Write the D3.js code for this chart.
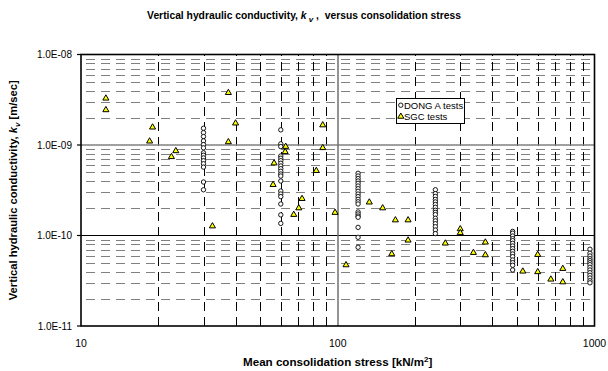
<!DOCTYPE html>
<html>
<head>
<meta charset="utf-8">
<script src="https://cdn.jsdelivr.net/npm/d3@7/dist/d3.min.js"></script>
<style>
  html, body { margin: 0; padding: 0; background: #fff; }
  svg { display: block; font-family: "Liberation Sans", Arial, sans-serif; }
</style>
</head>
<body>
<svg id="chart" width="608" height="371"></svg>
<script>
// Mean consolidation stress (kN/m2) of each DONG A test column, with measured k_v (m/s)
const dongStress = [30, 60, 120, 240, 480, 960];
const dongK30 = [1.53e-9, 1.37e-9, 1.24e-9, 1.11e-9, 1.01e-9, 9.3e-10, 8.2e-10, 7.7e-10, 7.2e-10, 6.7e-10, 6.2e-10, 5.7e-10, 3.9e-10, 3.2e-10];
const dongK60 = [1.47e-9, 1.03e-9, 9.6e-10, 7.55e-10, 7.13e-10, 6.71e-10, 6.28e-10, 5.86e-10, 5.47e-10, 5.12e-10, 4.78e-10, 4.54e-10, 4.0e-10, 3.1e-10, 2.87e-10, 2.69e-10, 2.23e-10, 1.69e-10, 1.36e-10];
const dongK120 = [4.87e-10, 4.54e-10, 4.25e-10, 4.0e-10, 3.77e-10, 3.52e-10, 3.29e-10, 3.08e-10, 2.87e-10, 2.69e-10, 2.51e-10, 2.36e-10, 2.23e-10, 1.82e-10, 1.73e-10, 1.64e-10, 1.59e-10, 1.23e-10, 9.55e-11, 7.41e-11];
const dongK240 = [3.2e-10, 2.9e-10, 2.7e-10, 2.5e-10, 2.35e-10, 2.2e-10, 2.05e-10, 1.9e-10, 1.8e-10, 1.7e-10, 1.55e-10, 1.45e-10, 1.35e-10, 1.25e-10, 1.15e-10, 1.05e-10];
const dongK480 = [1.11e-10, 1.06e-10, 9.87e-11, 9.22e-11, 8.77e-11, 8.2e-11, 7.66e-11, 7.15e-11, 6.69e-11, 6.25e-11, 5.84e-11, 5.36e-11, 5.01e-11, 4.69e-11, 4.16e-11];
const dongK960 = [7.05e-11, 6.36e-11, 5.93e-11, 5.54e-11, 5.27e-11, 5.01e-11, 4.76e-11, 4.45e-11, 4.16e-11, 3.88e-11, 3.63e-11, 3.39e-11, 3.16e-11, 3.0e-11];
const dongK = [dongK30, dongK60, dongK120, dongK240, dongK480, dongK960];

// SGC tests: stress (kN/m2) and k_v (m/s)
const sgcStress = [12.5, 12.5, 19.0, 18.5, 23.4, 22.5, 37.5, 40.0, 37.5, 32.5,
  87.4, 62.7, 62.4, 87.4, 56.5, 82.5, 56.0, 72.6, 70.5, 67.4, 97.6, 107.7,
  132.7, 149.6, 167.7, 187.9, 187.9, 162.3, 262.4, 300, 300,
  375.8, 337.6, 375.8, 525.7, 601, 601, 676, 752.5, 752.5];
const sgcK = [3.28e-9, 2.44e-9, 1.57e-9, 1.10e-9, 8.6e-10, 7.4e-10, 3.78e-9, 1.74e-9, 1.08e-9, 1.27e-10,
  1.66e-9, 9.6e-10, 8.4e-10, 9.3e-10, 6.3e-10, 5.2e-10, 3.64e-10, 2.55e-10, 2.01e-10, 1.70e-10, 1.79e-10, 4.72e-11,
  2.33e-10, 2.01e-10, 1.48e-10, 1.48e-10, 8.85e-11, 6.25e-11, 8.2e-11, 1.18e-10, 1.07e-10,
  8.41e-11, 6.46e-11, 6.09e-11, 4.02e-11, 6.14e-11, 3.96e-11, 3.28e-11, 4.3e-11, 3.06e-11];

// Axis tick values and labels
const xTicks = [10, 100, 1000];
const xTickLabels = ["10", "100", "1000"];
const yTicks = [1e-11, 1e-10, 1e-9, 1e-8];
const yTickLabels = ["1.0E-11", "1.0E-10", "1.0E-09", "1.0E-08"];
const seriesNames = ["DONG A tests", "SGC tests"];

const svg = d3.select("#chart");
const plotL = 81, plotR = 594.5, plotT = 54.5, plotB = 326;

const x = d3.scaleLog().domain([10, 1000]).range([plotL, plotR]);
const y = d3.scaleLog().domain([1e-11, 1e-8]).range([plotB, plotT]);

// Minor gridlines (2..9 within each decade)
const xMinor = [];
[10, 100].forEach(d => { for (let m = 2; m <= 9; m++) xMinor.push(m * d); });
const yMinor = [];
[1e-11, 1e-10, 1e-9].forEach(d => { for (let m = 2; m <= 9; m++) yMinor.push(m * d); });

const grid = svg.append("g");
grid.selectAll("line.hminor").data(yMinor).join("line")
  .attr("x1", plotL).attr("x2", plotR)
  .attr("y1", d => Math.round(y(d)) + 0.5).attr("y2", d => Math.round(y(d)) + 0.5)
  .attr("stroke", "#808080").attr("stroke-width", 1)
  .attr("stroke-dasharray", "9,6").attr("stroke-dashoffset", 10);

grid.selectAll("line.vminor").data(xMinor).join("line")
  .attr("x1", d => Math.round(x(d)) + 0.5).attr("x2", d => Math.round(x(d)) + 0.5)
  .attr("y1", plotB).attr("y2", plotT)
  .attr("stroke", "#000").attr("stroke-width", 1)
  .attr("stroke-dasharray", "9,6").attr("stroke-dashoffset", 0);

// Major gridlines
grid.append("line")
  .attr("x1", plotL).attr("x2", plotR)
  .attr("y1", Math.round(y(1e-9))).attr("y2", Math.round(y(1e-9)))
  .attr("stroke", "#808080").attr("stroke-width", 1.5);
grid.append("line")
  .attr("x1", plotL).attr("x2", plotR)
  .attr("y1", Math.round(y(1e-10)) + 0.5).attr("y2", Math.round(y(1e-10)) + 0.5)
  .attr("stroke", "#000").attr("stroke-width", 1);
grid.append("line")
  .attr("x1", Math.round(x(100))).attr("x2", Math.round(x(100)))
  .attr("y1", plotB).attr("y2", plotT)
  .attr("stroke", "#707070").attr("stroke-width", 1.5);

// Plot frame
svg.append("rect")
  .attr("x", plotL).attr("y", plotT)
  .attr("width", plotR - plotL).attr("height", plotB - plotT)
  .attr("fill", "none").attr("stroke", "#000").attr("stroke-width", 1.6);

// Y axis ticks and labels
svg.selectAll("line.ytick").data(yTicks).join("line")
  .attr("x1", plotL - 4).attr("x2", plotL)
  .attr("y1", d => y(d)).attr("y2", d => y(d))
  .attr("stroke", "#000").attr("stroke-width", 1.2);
svg.selectAll("text.ylab").data(yTicks).join("text")
  .attr("x", plotL - 9).attr("y", d => y(d) + 3.5)
  .attr("text-anchor", "end").attr("font-size", 10)
  .text((d, i) => yTickLabels[i]);

// X axis labels
svg.selectAll("text.xlab").data(xTicks).join("text")
  .attr("x", d => x(d)).attr("y", 346.5)
  .attr("text-anchor", "middle").attr("font-size", 10.5)
  .text((d, i) => xTickLabels[i]);

// DONG A circles
const dongPts = [];
dongStress.forEach((s, i) => dongK[i].forEach(k => dongPts.push([s, k])));
svg.append("g").selectAll("circle").data(dongPts).join("circle")
  .attr("cx", d => x(d[0])).attr("cy", d => y(d[1]))
  .attr("r", 2.2)
  .attr("fill", "#fff").attr("stroke", "#000").attr("stroke-width", 0.9);

// SGC triangles
const tri = d3.symbol().type(d3.symbolTriangle).size(16);
svg.append("g").selectAll("path").data(sgcStress.map((s, i) => [s, sgcK[i]])).join("path")
  .attr("d", tri)
  .attr("transform", d => `translate(${x(d[0])},${y(d[1])})`)
  .attr("fill", "#ffff00").attr("stroke", "#000").attr("stroke-width", 1);

// Legend
const lg = svg.append("g");
lg.append("rect").attr("x", 396.5).attr("y", 98.5).attr("width", 68).attr("height", 25)
  .attr("fill", "#fff").attr("stroke", "#000").attr("stroke-width", 1);
lg.append("circle").attr("cx", 400.8).attr("cy", 105.2).attr("r", 2.2)
  .attr("fill", "#fff").attr("stroke", "#000").attr("stroke-width", 0.9);
lg.append("path").attr("d", tri).attr("transform", "translate(400.8,116.5)")
  .attr("fill", "#ffff00").attr("stroke", "#000").attr("stroke-width", 1);
lg.append("text").attr("x", 404).attr("y", 108.6).attr("font-size", 9.5).text(seriesNames[0]);
lg.append("text").attr("x", 404).attr("y", 120).attr("font-size", 9.5).text(seriesNames[1]);

// Chart title
const title = svg.append("text").attr("x", 304).attr("y", 19)
  .attr("text-anchor", "middle").attr("font-size", 10.3).attr("font-weight", "bold")
  .attr("xml:space", "preserve").style("white-space", "pre");
title.append("tspan").text("Vertical hydraulic conductivity, ");
title.append("tspan").attr("font-style", "italic").text("k");
title.append("tspan").attr("font-style", "italic").attr("font-size", 8).attr("dy", 3).text(" v");
title.append("tspan").attr("dy", -3).text(" ,  versus consolidation stress");

// X axis title
const xt = svg.append("text").attr("x", (plotL + plotR) / 2).attr("y", 366)
  .attr("text-anchor", "middle").attr("font-size", 11.6).attr("font-weight", "bold");
xt.append("tspan").text("Mean consolidation stress [kN/m");
xt.append("tspan").attr("font-size", 8).attr("dy", -4.5).text("2");
xt.append("tspan").attr("dy", 4.5).text("]");

// Y axis title
const yt = svg.append("text")
  .attr("transform", `translate(17,${(plotT + plotB) / 2}) rotate(-90)`)
  .attr("text-anchor", "middle").attr("font-size", 11.2).attr("font-weight", "bold");
yt.append("tspan").text("Vertical hydraulic conductivity, ");
yt.append("tspan").attr("font-style", "italic").text("k");
yt.append("tspan").attr("font-style", "italic").attr("font-size", 8).attr("dy", 3).text("v");
yt.append("tspan").attr("dy", -3).text(" [m/sec]");
</script>
</body>
</html>
